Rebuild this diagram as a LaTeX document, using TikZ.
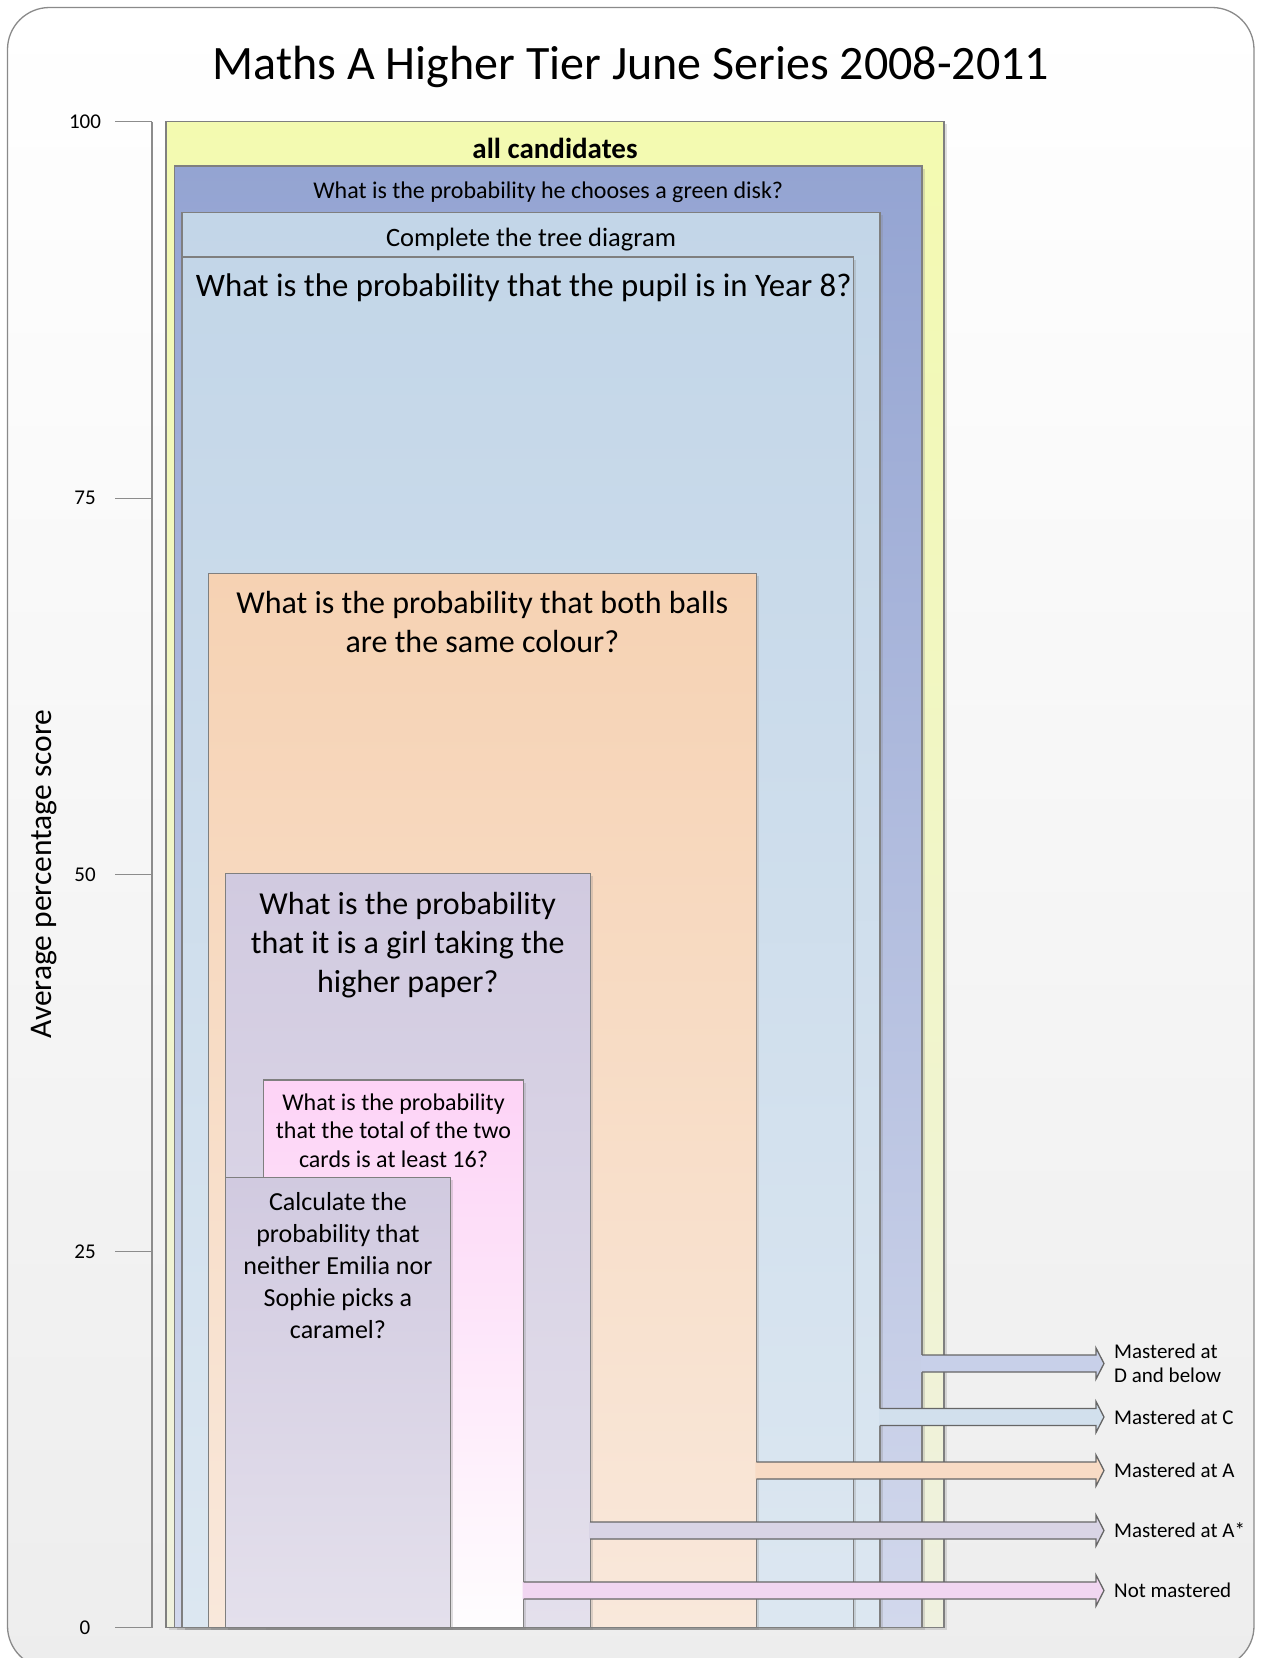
\documentclass[tikz,border=0pt]{standalone}
\usepackage{fontspec}
\setmainfont{Carlito}
\usetikzlibrary{positioning}
\usetikzlibrary{calc}
\usetikzlibrary{shadows}
\usepackage{xcolor}

\definecolor{frameline}{HTML}{8A8A8A}
\definecolor{boxline}{HTML}{7F7F7F}
\definecolor{yellowtop}{HTML}{F3FAB0}
\definecolor{yellowbot}{HTML}{EFF1DF}
\definecolor{disktop}{HTML}{94A4D2}
\definecolor{diskbot}{HTML}{D2D8EC}
\definecolor{treetop}{HTML}{C3D6E8}
\definecolor{treebot}{HTML}{DCE7F1}
\definecolor{ballstop}{HTML}{F6D2B3}
\definecolor{ballsbot}{HTML}{F9E8DB}
\definecolor{girltop}{HTML}{D1CAE0}
\definecolor{girlbot}{HTML}{E4E0EC}
\definecolor{cardstop}{HTML}{FDD3F6}
\definecolor{cardsbot}{HTML}{FEFDFE}
\definecolor{arrD}{HTML}{C8D0E9}
\definecolor{arrC}{HTML}{D2E0ED}
\definecolor{arrA}{HTML}{F8DBC5}
\definecolor{arrAs}{HTML}{D9D4E5}
\definecolor{arrN}{HTML}{F1D6F1}

% fat arrow from the right side of a box to a label
\newcommand{\levelarrow}[3]{%
\fill[#3] let \p1=(#1.east |- #2.west), \p2=([xshift=-10pt]#2.west) in
  (\x1-1pt,\y2+8.5pt)--(\x2-8pt,\y2+8.5pt)--(\x2-8pt,\y2+15.5pt)--(\x2,\y2)
  --(\x2-8pt,\y2-15.5pt)--(\x2-8pt,\y2-8.5pt)--(\x1-1pt,\y2-8.5pt)--cycle;
\draw[arrowline] let \p1=(#1.east |- #2.west), \p2=([xshift=-10pt]#2.west) in
  (\x1,\y2+8.5pt)--(\x2-8pt,\y2+8.5pt)--(\x2-8pt,\y2+15.5pt)--(\x2,\y2)
  --(\x2-8pt,\y2-15.5pt)--(\x2-8pt,\y2-8.5pt)--(\x1,\y2-8.5pt);
}

\begin{document}
\begin{tikzpicture}[x=1pt, y=-1pt,
  qbox/.style={draw=boxline, line width=1.3pt, anchor=north west, inner sep=0, outer sep=0,
    drop shadow={shadow xshift=2.5pt, shadow yshift=-2.5pt, opacity=0.25}},
  qtext/.style={inner sep=0, align=center},
  lab/.style={inner sep=0, anchor=west, align=left, font=\fontsize{21}{24}\selectfont},
  arrowline/.style={draw=black!60, line width=1.3pt, line join=miter},
  axisline/.style={draw=black!45, line width=1.3pt}]

\useasboundingbox (0,0) rectangle (1265,1658);
\clip (0,0) rectangle (1265,1658);

% background
\draw[draw=frameline, line width=1.3pt, rounded corners=42pt, top color=white, bottom color=black!7]
  (7.5,7.5) rectangle (1254,1668);

\node[font=\fontsize{48}{58}\selectfont, anchor=base] (title) at (631,79) {Maths A Higher Tier June Series 2008-2011};

% axis
\node[font=\fontsize{31.5}{38}\selectfont, rotate=90] (ytitle) at (44,874) {Average percentage score};
\foreach \v in {0,25,50,75,100}
{
\node[font=\fontsize{21}{25}\selectfont, inner sep=0] (tick\v) at (85,{1627.8-15.06*\v}) {\v};
\draw[axisline] (115,{1627.8-15.06*\v})--++(37,0);
}
\draw[axisline] (152,121.8)--(152,1627.8);

% boxes
\node[qbox, minimum width=778pt, minimum height=1506pt, top color=yellowtop, bottom color=yellowbot] (all) at (166,121.8) {};
\node[qtext, font=\fontsize{29}{35}\selectfont\bfseries, below=16pt of all.north] (allT) {all candidates};

\node[qbox, minimum width=747.5pt, minimum height=1461.8pt, top color=disktop, bottom color=diskbot] (disk) at (174.5,166) {};
\node[qtext, font=\fontsize{24}{29}\selectfont, below=16pt of disk.north] (diskT) {What is the probability he chooses a green disk?};

\node[qbox, minimum width=698pt, minimum height=1415.2pt, top color=treetop, bottom color=treebot] (tree) at (182,212.6) {};
\node[qtext, font=\fontsize{26.5}{32}\selectfont, below=15pt of tree.north] (treeT) {Complete the tree diagram};

\node[qbox, minimum width=671.6pt, minimum height=1370.8pt, top color=treetop, bottom color=treebot] (yr8) at (182,257) {};
\node[qtext, font=\fontsize{32.8}{40}\selectfont, below=17pt of yr8.north, xshift=6pt] (yr8T) {What is the probability that the pupil is in Year 8?};

\node[qbox, minimum width=547.9pt, minimum height=1054.5pt, top color=ballstop, bottom color=ballsbot] (balls) at (208.4,573.3) {};
\node[qtext, font=\fontsize{32}{39}\selectfont, below=18pt of balls.north] (ballsT) {What is the probability that both balls\\are the same colour?};

\node[qbox, minimum width=364.9pt, minimum height=754.1pt, top color=girltop, bottom color=girlbot] (girl) at (225.3,873.7) {};
\node[qtext, font=\fontsize{32}{39}\selectfont, below=18pt of girl.north] (girlT) {What is the probability\\that it is a girl taking the\\higher paper?};

\node[qbox, minimum width=260.2pt, minimum height=547.8pt, top color=cardstop, bottom color=cardsbot] (cards) at (263.4,1080) {};
\node[qtext, font=\fontsize{24}{28.5}\selectfont, below=13.5pt of cards.north] (cardsT) {What is the probability\\that the total of the two\\cards is at least 16?};

\node[qbox, minimum width=225.3pt, minimum height=450.6pt, top color=girltop, bottom color=girlbot] (caramel) at (225.3,1177.2) {};
\node[qtext, font=\fontsize{26}{32}\selectfont, below=15pt of caramel.north] (caramelT) {Calculate the\\probability that\\neither Emilia nor\\Sophie picks a\\caramel?};

% labels and arrows
\node[lab] (labD) at (1114,1363.5) {Mastered at\\D and below};
\node[lab] (labC) at (1114,1417) {Mastered at C};
\node[lab] (labA) at (1114,1470.5) {Mastered at A};
\node[lab] (labAs) at (1114,1530.5) {Mastered at A*};
\node[lab] (labN) at (1114,1590.5) {Not mastered};

\levelarrow{disk}{labD}{arrD}
\levelarrow{tree}{labC}{arrC}
\levelarrow{balls}{labA}{arrA}
\levelarrow{girl}{labAs}{arrAs}
\levelarrow{cards}{labN}{arrN}

\end{tikzpicture}
\end{document}
